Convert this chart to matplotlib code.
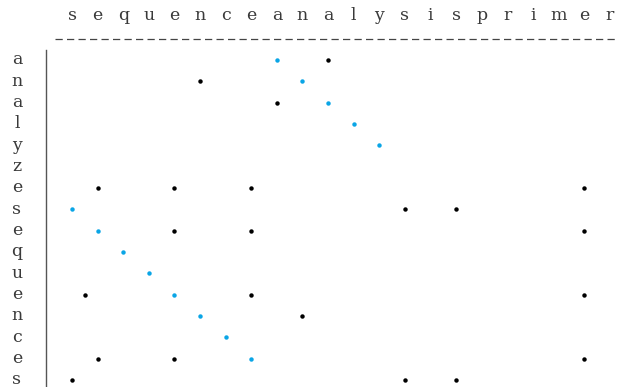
import matplotlib
matplotlib.use('Agg')
import matplotlib.pyplot as plt

# sequences being compared
top_seq = "sequenceanalysisprimer"
side_seq = "analyzesequences"

# dots: (row, column)
black_rows = [0, 1, 2, 6, 6, 6, 6, 7, 7, 8, 8, 8, 11, 11, 11, 12, 14, 14, 14, 15, 15, 15]
black_cols = [10, 5, 8, 1, 4, 7, 20, 13, 15, 4, 7, 20, 0.5, 7, 20, 9, 1, 4, 20, 0, 13, 15]
blue_rows = [0, 1, 2, 3, 4, 7, 8, 9, 10, 11, 12, 13, 14]
blue_cols = [8, 9, 10, 11, 12, 0, 1, 2, 3, 4, 5, 6, 7]

fig = plt.figure(figsize=(6.23, 3.87), dpi=100)
ax = fig.add_axes([0, 0, 1, 1])
ax.set_xlim(-2.8125, 21.52)
ax.set_ylim(15.33, -2.8125)
ax.axis('off')

font = dict(family='DejaVu Serif', fontsize=12.5, color='#3a3a3a')

# header letters and dashed rule
for i, ch in enumerate(top_seq):
    ax.text(i, -2.1, ch, ha='center', va='center', **font)
ax.plot([-0.66, 21.3], [-1.0, -1.0], color='#444444', lw=0.9, dashes=(5.8, 3.4))

# side letters and vertical rule
for j, ch in enumerate(side_seq):
    ax.text(-2.15, j, ch, ha='center', va='center', **font)
ax.plot([-1.0, -1.0], [-0.47, 15.4], color='#555555', lw=1.0)

ax.plot(black_cols, black_rows, 'o', color='black', ms=3.2, mew=0)
ax.plot(blue_cols, blue_rows, 'o', color='#0aa5e6', ms=3.2, mew=0)

plt.savefig('out.png', dpi=100)
